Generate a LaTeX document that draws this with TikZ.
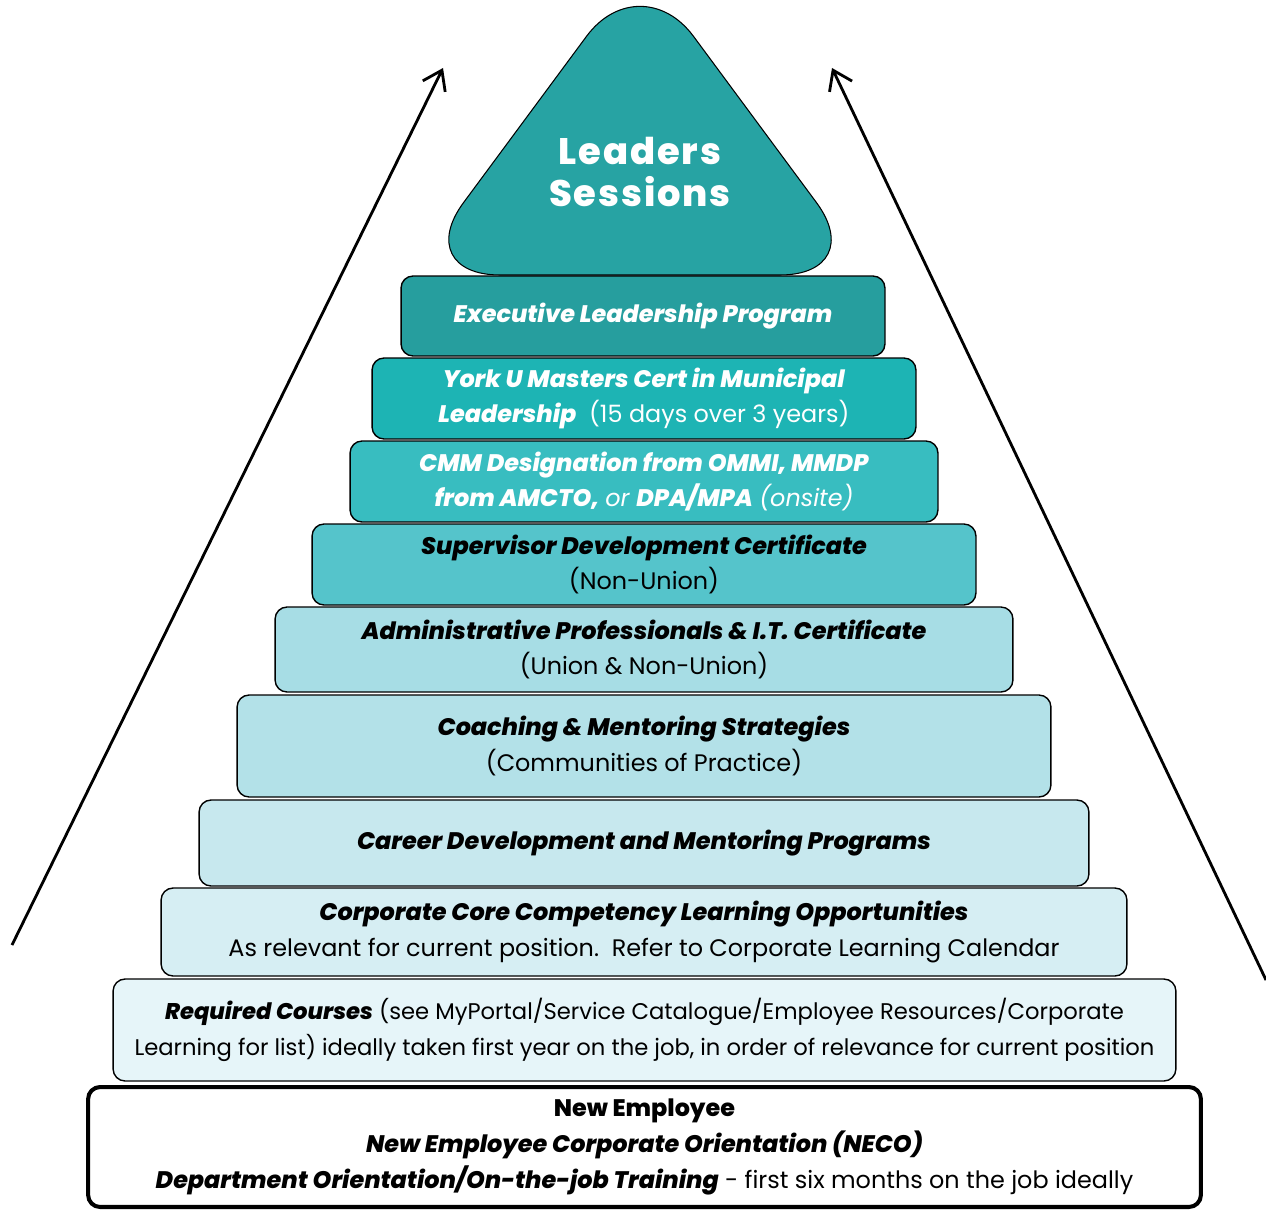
\documentclass[tikz,border=0pt]{standalone}
\usepackage{fontspec}
\setmainfont{Poppins}[BoldFont={Poppins ExtraBold}, BoldItalicFont={Poppins ExtraBold Italic}]
\newfontfamily\leadfont[LetterSpace=5]{Poppins ExtraBold}
\usetikzlibrary{arrows.meta}
\definecolor{leadteal}{HTML}{27A3A3}
\definecolor{execteal}{HTML}{269E9E}
\definecolor{yorkteal}{HTML}{1DB4B4}
\definecolor{cmmteal}{HTML}{38BDC0}
\definecolor{supteal}{HTML}{55C4CB}
\definecolor{admblue}{HTML}{A7DDE5}
\definecolor{coachblue}{HTML}{B3E1E8}
\definecolor{careerblue}{HTML}{C7E8EE}
\definecolor{coreblue}{HTML}{D6EEF3}
\definecolor{reqblue}{HTML}{E6F5F9}
\newcommand\bi[1]{\textbf{\textit{#1}}}
\tikzset{
    tier/.style ={draw, line width=0.8pt, rounded corners=0.24cm, align=center,
                  inner sep=0pt, font=\fontsize{13.6}{20.4}\selectfont},
    darktier/.style ={tier, text=white},
    climb/.style ={-{Straight Barb[length=0.36cm,width=0.5cm]}, line width=1.6pt}
}

\begin{document}
\begin{tikzpicture}[x=0.02cm, y=-0.02cm]
    \useasboundingbox (0,0) rectangle (1266,1213);

    % top of the pyramid
    \draw[fill=leadteal, line width=0.6pt, rounded corners=1.8cm] (410,275) -- (640,-36) -- (870,275) -- cycle;
    \node[text=white, align=center, font=\fontsize{21}{24}\leadfont] (lead) at (640,172) {Leaders\\Sessions};

    % the tiers, top to bottom
    \node[darktier, fill=execteal, minimum width=9.68cm, minimum height=1.6cm] (exec) at (643,316)
        {\bi{Executive Leadership Program}};
    \node[darktier, fill=yorkteal, minimum width=10.88cm, minimum height=1.62cm] (york) at (644,398.5)
        {\bi{York U Masters Cert in Municipal}\\\bi{Leadership}\ \ (15 days over 3 years)};
    \node[darktier, fill=cmmteal, minimum width=11.76cm, minimum height=1.62cm] (cmm) at (644,481.5)
        {\bi{CMM Designation from OMMI, MMDP}\\\bi{from AMCTO,} \textit{or} \bi{DPA/MPA} \textit{(onsite)}};
    \node[tier, fill=supteal, minimum width=13.28cm, minimum height=1.62cm] (sup) at (644,564.5)
        {\bi{Supervisor Development Certificate}\\(Non-Union)};
    \node[tier, fill=admblue, minimum width=14.76cm, minimum height=1.7cm] (adm) at (644,649.5)
        {\bi{Administrative Professionals \& I.T. Certificate}\\(Union \& Non-Union)};
    \node[tier, fill=coachblue, minimum width=16.28cm, minimum height=2.04cm] (coach) at (644,746)
        {\bi{Coaching \& Mentoring Strategies}\\(Communities of Practice)};
    \node[tier, fill=careerblue, minimum width=17.8cm, minimum height=1.72cm] (career) at (644,843)
        {\bi{Career Development and Mentoring Programs}};
    \node[tier, fill=coreblue, minimum width=19.32cm, minimum height=1.76cm] (core) at (644,932)
        {\bi{Corporate Core Competency Learning Opportunities}\\As relevant for current position.\ \ Refer to Corporate Learning Calendar};
    \node[tier, fill=reqblue, minimum width=21.26cm, minimum height=2.04cm, font=\fontsize{12.9}{20.4}\selectfont] (req) at (644.5,1030)
        {\bi{Required Courses} (see MyPortal/Service Catalogue/Employee Resources/Corporate\\Learning for list) ideally taken first year on the job, in order of relevance for current position};
    \node[tier, fill=white, line width=2.3pt, minimum width=22.26cm, minimum height=2.4cm] (new) at (644.5,1147)
        {\textbf{New Employee}\\\bi{New Employee Corporate Orientation (NECO)}\\\bi{Department Orientation/On-the-job Training} - first six months on the job ideally};

    % arrows up the sides
    \coordinate (lbot) at (12,945);
    \coordinate (ltop) at (443,68);
    \coordinate (rbot) at (1266,980);
    \coordinate (rtop) at (832,68);
    \draw[climb] (lbot) -- (ltop);
    \draw[climb] (rbot) -- (rtop);
\end{tikzpicture}
\end{document}
